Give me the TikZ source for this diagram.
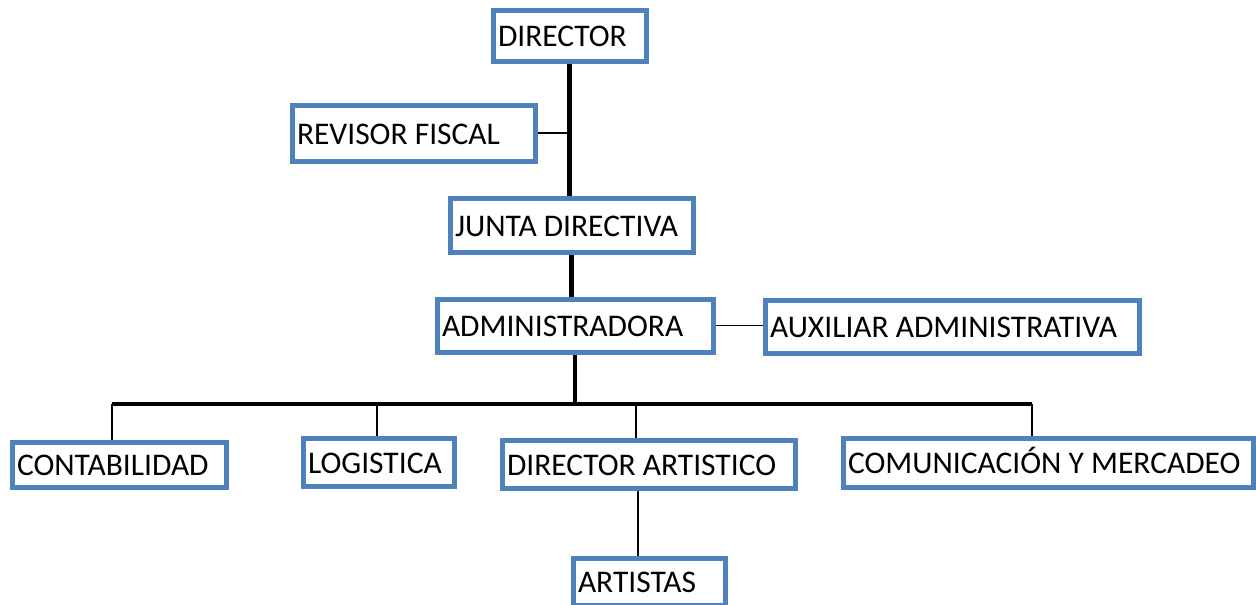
\documentclass[tikz,border=0pt]{standalone}
\usepackage{fontspec}
\setmainfont{Carlito}
\usetikzlibrary{backgrounds}
\definecolor{boxblue}{RGB}{79,129,189}
\newcommand\bxt[2]{\makebox[#1][l]{#2}}
\begin{document}
\begin{tikzpicture}[x=1pt,y=-1pt,
  orgbox/.style={draw=boxblue, line width=5pt, fill=white, anchor=north west,
    inner xsep=5pt, inner ysep=0pt, text height=23pt, text depth=1pt,
    font=\fontsize{31.5}{36}\selectfont},
  thickline/.style={line width=4.5pt, black},
  thinline/.style={line width=1.2pt, black}]
\useasboundingbox (0,0) rectangle (1256,605);
\node[orgbox, minimum height=51pt] (dir) at (490.5,7.5) {\bxt{143pt}{DIRECTOR}};
\node[orgbox, minimum height=56pt] (rev) at (289.5,102.5) {\bxt{233pt}{REVISOR FISCAL}};
\node[orgbox, minimum height=54pt] (junta) at (447.5,195.5) {\bxt{233pt}{JUNTA DIRECTIVA}};
\node[orgbox, minimum height=53pt] (admin) at (434.5,296.5) {\bxt{266pt}{ADMINISTRADORA}};
\node[orgbox, minimum height=53pt] (aux) at (762.5,297.5) {\bxt{364pt}{AUXILIAR ADMINISTRATIVA}};
\node[orgbox, minimum height=45pt] (contab) at (9.5,439.5) {\bxt{204pt}{CONTABILIDAD}};
\node[orgbox, minimum height=48pt] (logist) at (300.5,435.5) {\bxt{141pt}{LOGISTICA}};
\node[orgbox, minimum height=48pt] (dirart) at (499.5,437.5) {\bxt{283pt}{DIRECTOR ARTISTICO}};
\node[orgbox, minimum height=49pt] (comun) at (840.5,435.5) {\bxt{400pt}{COMUNICACIÓN Y MERCADEO}};
\node[orgbox, minimum height=47pt] (artis) at (570.5,555.5) {\bxt{142pt}{ARTISTAS}};
\coordinate (b1) at (112,404);
\coordinate (b2) at (377,404);
\coordinate (b3) at (636,404);
\coordinate (b4) at (1032,404);
\begin{pgfonlayer}{background}
\draw[thickline] (dir.south) -- (dir.south |- junta.north);
\draw[thinline] (rev.east) -- (rev.east -| dir.south);
\draw[thickline] (junta.south) -- (junta.south |- admin.north);
\draw[thinline] (admin.east) -- (admin.east -| aux.west);
\draw[thickline] (admin.south) -- (admin.south |- b1);
\draw[thickline] (b1) -- (b4);
\draw[thinline] (b1) -- (b1 |- contab.north);
\draw[thinline] (b2) -- (b2 |- logist.north);
\draw[thinline] (b3) -- (b3 |- dirart.north);
\draw[thinline] (b4) -- (b4 |- comun.north);
\draw[thinline] ([xshift=2pt]b3 |- dirart.south) -- ([xshift=2pt]b3 |- artis.north);
\end{pgfonlayer}
\end{tikzpicture}
\end{document}
